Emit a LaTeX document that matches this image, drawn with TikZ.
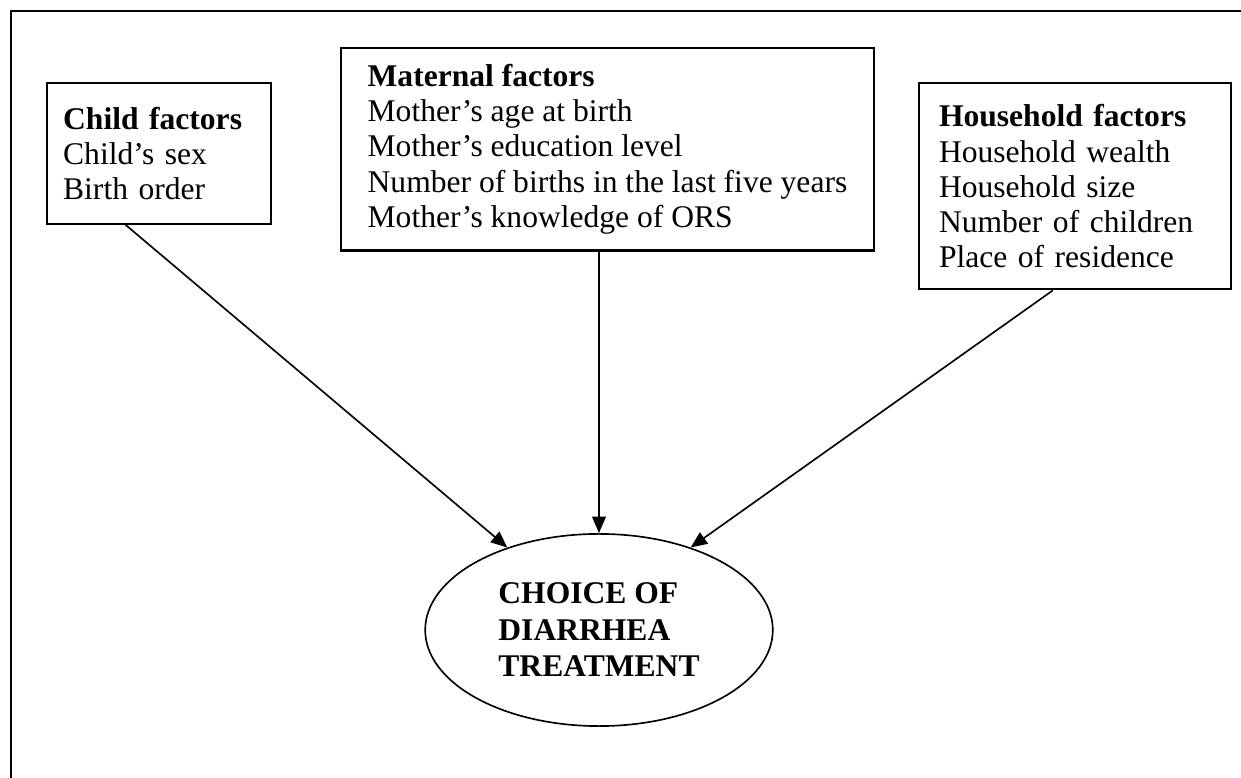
\documentclass[tikz,border=0pt]{standalone}
\usepackage{fontspec}
\setmainfont{Liberation Serif}
\usetikzlibrary{shapes.geometric,positioning,arrows.meta}

\begin{document}
\begin{tikzpicture}[
      x=0.0128cm, y=-0.0128cm,
      >={Triangle[length=6pt,width=5pt]},
      every text node part/.style={align=left},
      factors/.style={
        rectangle,
        draw,
        line width=0.8pt,
        inner xsep=0.256cm,
        inner ysep=0pt,
        font=\fontsize{11.5}{12.8}\selectfont
      },
      outcome/.style={
        ellipse,
        draw,
        line width=0.6pt,
        inner sep=0pt,
        minimum width=4.45cm,
        minimum height=2.46cm,
        font=\fontsize{11.5}{13.3}\selectfont\bfseries
      },
      link/.style={->, line width=0.6pt}
    ]
    \useasboundingbox (0,0) rectangle (1241,778);
    \draw[line width=0.8pt] (11,778) -- (11,11) -- (1241,11);

    \node[factors, anchor=north west, minimum width=6.82cm, minimum height=2.59cm]
      (Maternal) at (340,47)
      {\textbf{Maternal factors}\\
      Mother’s age at birth\\
      Mother’s education level\\
      Number of births in the last five years\\
      Mother’s knowledge of ORS};

    \node[factors, below left=0.448cm and 0.87cm of Maternal.north west, text width=2.45cm, inner xsep=0.21cm, minimum height=1.80cm]
      (Child)
      {\textbf{Child factors}\\
      Child’s sex\\
      Birth order};

    \node[factors, below right=0.448cm and 0.55cm of Maternal.north east, text width=3.48cm, minimum height=2.64cm]
      (Household)
      {\textbf{Household factors}\\
      Household wealth\\
      Household size\\
      Number of children\\
      Place of residence};

    \node[outcome]
      (Choice) at (599,630)
      {CHOICE OF\\
      DIARRHEA\\
      TREATMENT};

    \draw[link] (Child.245) -- (Choice.138);
    \draw[link] (Choice.north |- Maternal.south) -- (Choice.north);
    \draw[link] (Household.258) -- (Choice.42);
  \end{tikzpicture}
\end{document}
